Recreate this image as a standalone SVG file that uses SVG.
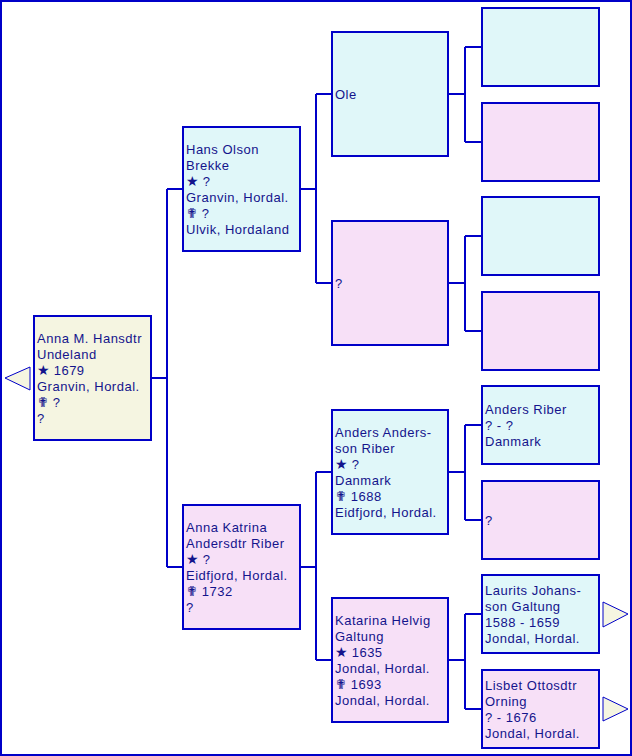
<svg xmlns="http://www.w3.org/2000/svg" width="632" height="756" viewBox="0 0 632 756">
<style>
.m{fill:#e0f7f9;stroke:#0000c8;stroke-width:2}
.f{fill:#f7e0f7;stroke:#0000c8;stroke-width:2}
.r{fill:#f5f5e1;stroke:#0000c8;stroke-width:2}
.c{fill:none;stroke:#0000c8;stroke-width:2}
.a{fill:#f5f5e1;stroke:#0000c8;stroke-width:1}
text{font-family:"Liberation Sans",Arial,sans-serif;font-size:13px;letter-spacing:0.5px;fill:#14148c}
.s{font-family:"DejaVu Sans",sans-serif;font-size:14px;letter-spacing:0}
.x{font-family:"DejaVu Sans",sans-serif;font-size:14px;letter-spacing:0}
</style>
<rect x="1" y="1" width="630" height="754" fill="#ffffff" stroke="#0000c8" stroke-width="2"/>
<g id="connectors">
<path class="c" d="M151,378H167M167,189V567M167,189H183M167,567H183"/>
<path class="c" d="M300,189H316M316,94V283M316,94H332M316,283H332"/>
<path class="c" d="M300,567H316M316,472V660M316,472H332M316,660H332"/>
<path class="c" d="M448,94H465M465,47V142M465,47H482M465,142H482"/>
<path class="c" d="M448,283H465M465,236V331M465,236H482M465,331H482"/>
<path class="c" d="M448,472H465M465,425V520M465,425H482M465,520H482"/>
<path class="c" d="M448,660H465M465,614V709M465,614H482M465,709H482"/>
</g>
<g id="arrow-left"><polygon class="a" points="30,367 5,378 30,390"/></g>
<g id="arrow-right-1"><polygon class="a" points="603,602 628,614 603,627"/></g>
<g id="arrow-right-2"><polygon class="a" points="603,697 628,709 603,721"/></g>
<g id="root">
<rect class="r" x="34" y="316" width="117" height="124"/>
<text x="37" y="343">Anna M. Hansdtr</text>
<text x="37" y="359">Undeland</text>
<text x="37" y="375"><tspan class="s">★</tspan> 1679</text>
<text x="37" y="391">Granvin, Hordal.</text>
<text x="37" y="407"><tspan class="x">✟</tspan> ?</text>
<text x="37" y="423">?</text>
</g>
<g id="hans">
<rect class="m" x="183" y="127" width="117" height="124"/>
<text x="186" y="154">Hans Olson</text>
<text x="186" y="170">Brekke</text>
<text x="186" y="186"><tspan class="s">★</tspan> ?</text>
<text x="186" y="202">Granvin, Hordal.</text>
<text x="186" y="218"><tspan class="x">✟</tspan> ?</text>
<text x="186" y="234">Ulvik, Hordaland</text>
</g>
<g id="annak">
<rect class="f" x="183" y="505" width="117" height="124"/>
<text x="186" y="532">Anna Katrina</text>
<text x="186" y="548">Andersdtr Riber</text>
<text x="186" y="564"><tspan class="s">★</tspan> ?</text>
<text x="186" y="580">Eidfjord, Hordal.</text>
<text x="186" y="596"><tspan class="x">✟</tspan> 1732</text>
<text x="186" y="612">?</text>
</g>
<g id="ole">
<rect class="m" x="332" y="32" width="116" height="124"/>
<text x="335" y="99">Ole</text>
</g>
<g id="unk1">
<rect class="f" x="332" y="221" width="116" height="124"/>
<text x="335" y="288">?</text>
</g>
<g id="anders">
<rect class="m" x="332" y="410" width="116" height="124"/>
<text x="335" y="437">Anders Anders-</text>
<text x="335" y="453">son Riber</text>
<text x="335" y="469"><tspan class="s">★</tspan> ?</text>
<text x="335" y="485">Danmark</text>
<text x="335" y="501"><tspan class="x">✟</tspan> 1688</text>
<text x="335" y="517">Eidfjord, Hordal.</text>
</g>
<g id="katarina">
<rect class="f" x="332" y="598" width="116" height="124"/>
<text x="335" y="625">Katarina Helvig</text>
<text x="335" y="641">Galtung</text>
<text x="335" y="657"><tspan class="s">★</tspan> 1635</text>
<text x="335" y="673">Jondal, Hordal.</text>
<text x="335" y="689"><tspan class="x">✟</tspan> 1693</text>
<text x="335" y="705">Jondal, Hordal.</text>
</g>
<g id="g4-1"><rect class="m" x="482" y="8" width="117" height="78"/></g>
<g id="g4-2"><rect class="f" x="482" y="103" width="117" height="78"/></g>
<g id="g4-3"><rect class="m" x="482" y="197" width="117" height="78"/></g>
<g id="g4-4"><rect class="f" x="482" y="292" width="117" height="78"/></g>
<g id="anders-riber">
<rect class="m" x="482" y="386" width="117" height="78"/>
<text x="485" y="414">Anders Riber</text>
<text x="485" y="430">? - ?</text>
<text x="485" y="446">Danmark</text>
</g>
<g id="g4-6">
<rect class="f" x="482" y="481" width="117" height="78"/>
<text x="485" y="525">?</text>
</g>
<g id="laurits">
<rect class="m" x="482" y="575" width="117" height="78"/>
<text x="485" y="595">Laurits Johans-</text>
<text x="485" y="611">son Galtung</text>
<text x="485" y="627">1588 - 1659</text>
<text x="485" y="643">Jondal, Hordal.</text>
</g>
<g id="lisbet">
<rect class="f" x="482" y="670" width="117" height="78"/>
<text x="485" y="690">Lisbet Ottosdtr</text>
<text x="485" y="706">Orning</text>
<text x="485" y="722">? - 1676</text>
<text x="485" y="738">Jondal, Hordal.</text>
</g>
</svg>
